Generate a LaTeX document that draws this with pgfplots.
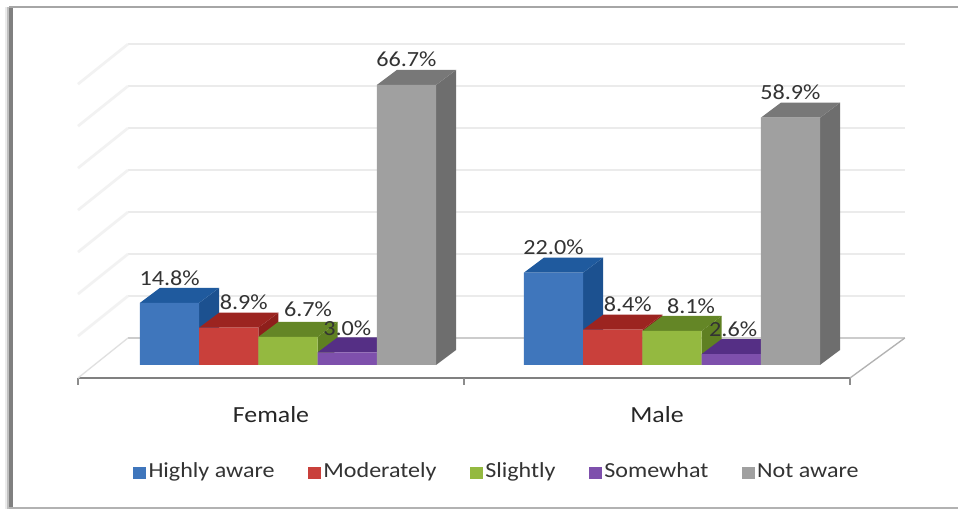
\documentclass[border=0pt]{standalone}
\usepackage{pgfplots}
\pgfplotsset{compat=1.18}
\usepackage{fontspec}
\setmainfont[FakeStretch=1.12]{Carlito}
\definecolor{blueF}{HTML}{3F76BC}\definecolor{blueS}{HTML}{1C5190}\definecolor{blueT}{HTML}{1F5A9E}
\definecolor{redF}{HTML}{C9403B}\definecolor{redS}{HTML}{8E1F1B}\definecolor{redT}{HTML}{9C2420}
\definecolor{greenF}{HTML}{94B940}\definecolor{greenS}{HTML}{5F8022}\definecolor{greenT}{HTML}{648626}
\definecolor{purpleF}{HTML}{7E50AC}\definecolor{purpleS}{HTML}{4E2C7C}\definecolor{purpleT}{HTML}{552F85}
\definecolor{greyF}{HTML}{A0A0A0}\definecolor{greyS}{HTML}{6E6E6E}\definecolor{greyT}{HTML}{787878}
\definecolor{gridc}{HTML}{EBEBEB}
% values per awareness level (percent)
\def\fHigh{14.8}\def\fMod{8.9}\def\fSli{6.7}\def\fSom{3.0}\def\fNot{66.7}
\def\mHigh{22.0}\def\mMod{8.4}\def\mSli{8.1}\def\mSom{2.6}\def\mNot{58.9}
% half bar width and oblique depth of the columns, in axis units
\def\hw{0.0767}\def\dpx{0.0518}\def\dpy{3.57}
\newcommand{\depthfaces}[4]{%
  \pgfmathsetmacro\xl{#1-\hw}\pgfmathsetmacro\xr{#1+\hw}%
  \pgfmathsetmacro\xbl{\xl+\dpx}\pgfmathsetmacro\xbr{\xr+\dpx}%
  \pgfmathsetmacro\yb{#2+\dpy}%
  \edef\temp{\noexpand\addplot[forget plot,fill=#3,draw=none] coordinates {(\xr,0)(\xbr,\dpy)(\xbr,\yb)(\xr,#2)} -- cycle;
  \noexpand\addplot[forget plot,fill=#4,draw=none] coordinates {(\xl,#2)(\xbl,\yb)(\xbr,\yb)(\xr,#2)} -- cycle;}\temp}
\pgfplotsset{swatch/.style={legend image code/.code={\fill[##1,draw=none] (0pt,-4.4pt) rectangle (9.6pt,4.4pt);}}}
\newcommand{\columns}[8]{%
  \depthfaces{#1}{#2}{#5}{#6}\depthfaces{#3}{#4}{#5}{#6}%
  \edef\temp{\noexpand\addplot[ybar,swatch,bar width=44.4pt,bar shift=0pt,fill=#7,draw=none] coordinates {(#1,#2)(#3,#4)};}\temp
  \addlegendentry{#8}}
\newcommand{\vlabel}[4]{\node[font=\fontsize{16.2}{18}\selectfont,text=black!80,xshift=#3*0.75pt,yshift=#4*0.75pt] at (axis cs:#1,#2) {#2\%};}
\begin{document}
\begin{tikzpicture}[x=0.75pt,y=-0.75pt]
% page and panel edge
\fill[white] (0,0) rectangle (958,509);
\fill[black!8] (5,7) rectangle (8,509);
\fill[black!25] (7,7) rectangle (9,509);
\fill[black!50] (9,7) rectangle (13,509);
\fill[black!35] (9,6) rectangle (958,8);
\fill[black!30] (9,507) rectangle (958,509);
\begin{axis}[
  at={(58.5pt,-283.5pt)},anchor=south west,scale only axis,width=579pt,height=251.25pt,
  xmin=-0.5,xmax=1.5,ymin=-3.1,ymax=76.7,clip=false,
  axis y line=none,axis x line*=bottom,axis line style={-,draw=black!50,line width=1.5pt},
  xtick={0,1},xticklabels={Female,Male},major tick length=0pt,
  extra x ticks={-0.5,0.5,1.5},extra x tick labels={},
  extra x tick style={major tick length=5pt,tick align=outside,tick style={draw=black!45,line width=0.8pt}},
  xticklabel style={font=\fontsize{17.3}{19}\selectfont,text=black!85,yshift=-18pt},
  legend columns=5,
  legend style={at={(axis cs:0.586,-25.8)},anchor=center,draw=none,fill=none,font=\fontsize{16.1}{18}\selectfont,text=black!80,nodes={text height=10pt,text depth=3pt},/tikz/every even column/.append style={column sep=23pt}},
]
% back wall and side wall lines
\pgfplotsinvokeforeach{10,20,30,40,50,60,70}{
  \pgfmathsetmacro\ya{#1+6.43}\pgfmathsetmacro\yf{#1-3.1}
  \edef\temp{\noexpand\addplot[forget plot,draw=gridc,line width=2pt] coordinates {(-0.3705,\ya)(1.642,\ya)};
  \noexpand\addplot[forget plot,draw=black!5,line width=2pt] coordinates {(-0.5,\yf)(-0.3705,\ya)};}\temp}
% floor edges
\addplot[forget plot,draw=black!20,line width=1.2pt] coordinates {(-0.3705,6.43)(1.642,6.43)};
\addplot[forget plot,draw=black!30,line width=1pt] coordinates {(1.5,-3.1)(1.642,6.43)};
\addplot[forget plot,draw=black!12,line width=1pt] coordinates {(-0.5,-3.1)(-0.3705,6.43)};
% columns, left to right so that each front hides its neighbour's side
\columns{-0.2627}{\fHigh}{0.732}{\mHigh}{blueS}{blueT}{blueF}{Highly aware}
\columns{-0.1093}{\fMod}{0.8854}{\mMod}{redS}{redT}{redF}{Moderately}
\columns{0.0441}{\fSli}{1.0388}{\mSli}{greenS}{greenT}{greenF}{Slightly}
\columns{0.1975}{\fSom}{1.1922}{\mSom}{purpleS}{purpleT}{purpleF}{Somewhat}
\columns{0.3509}{\fNot}{1.3456}{\mNot}{greyS}{greyT}{greyF}{Not aware}
% value labels
\vlabel{-0.2627}{\fHigh}{0}{25}
\vlabel{-0.1093}{\fMod}{15}{25}
\vlabel{0.0441}{\fSli}{20}{28}
\vlabel{0.1975}{\fSom}{0}{24}
\vlabel{0.3509}{\fNot}{0}{26}
\vlabel{0.732}{\mHigh}{0}{25}
\vlabel{0.8854}{\mMod}{15}{26}
\vlabel{1.0388}{\mSli}{19}{25}
\vlabel{1.1922}{\mSom}{2}{25}
\vlabel{1.3456}{\mNot}{0}{26}
\end{axis}
\end{tikzpicture}
\end{document}
